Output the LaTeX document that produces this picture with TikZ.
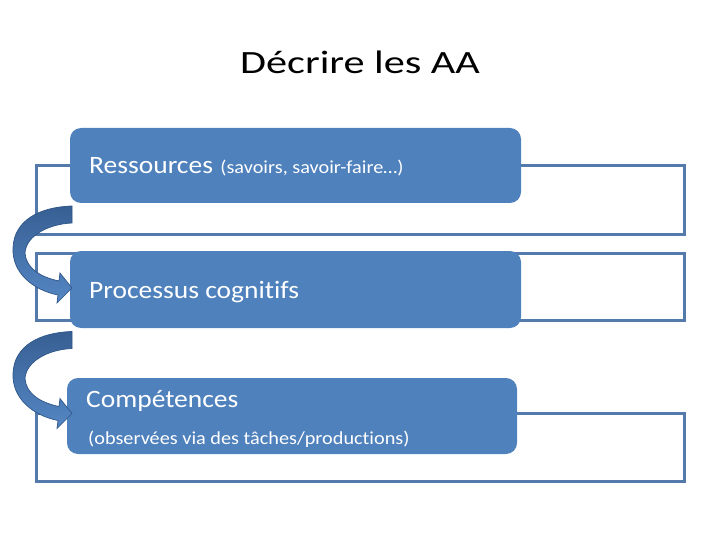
\documentclass[tikz,border=0pt]{standalone}
\usepackage{fontspec}
\setmainfont{Carlito}[Ligatures=NoCommon]
\newfontfamily\titlef{Carlito}[FakeStretch=1.3,Ligatures=NoCommon]
\newfontfamily\bodyf{Carlito}[FakeStretch=1.1,Ligatures=NoCommon]
\definecolor{boxblue}{HTML}{4F81BD}
\definecolor{lineblue}{HTML}{5479AB}
\definecolor{arrdark}{HTML}{375F93}
\definecolor{arrlight}{HTML}{5587C4}
\definecolor{arredge}{HTML}{2E5588}
\tikzset{
  frame/.style={draw=lineblue, line width=3pt, fill=white},
  bluebox/.style={fill=boxblue, rounded corners=11pt},
  bigtxt/.style={text=white, font=\bodyf\fontsize{25}{30}\selectfont, inner sep=0pt},
  smalltxt/.style={text=white, font=\bodyf\fontsize{18.4}{22}\selectfont, inner sep=0pt},
  curvearrow/.pic={
    \path[top color=arrdark, bottom color=arrlight, draw=arredge, line width=0.7pt]
      (72,206) .. controls (40,207) and (14,220) .. (13,248)
      .. controls (12,273) and (33,290) .. (58,295)
      -- (57,303) -- (72,288) -- (60,273) -- (59,281)
      .. controls (40,277) and (26,268) .. (25,253)
      .. controls (26,236) and (48,224) .. (72,223) -- cycle;
  }
}
\begin{document}
\begin{tikzpicture}[x=1pt,y=-1pt]
\useasboundingbox (0,0) rectangle (720,540);
\fill[white] (0,0) rectangle (720,540);
% title
\node[anchor=base, inner sep=0pt, font=\titlef\fontsize{32.5}{40}\selectfont] (title) at (360,73.5) {Décrire les AA};
% outline frames
\draw[frame] (36,166) rectangle (684,234);
\draw[frame] (36,253) rectangle (684,320);
\draw[frame] (36,413) rectangle (684,481);
% blue boxes
\fill[bluebox] (70,128) rectangle (521,203);
\fill[bluebox] (70,251) rectangle (521,328);
\fill[bluebox] (67,378) rectangle (517,454);
% texts
\node[bigtxt, anchor=base west] (t1) at (89,174) {Ressources};
\node[smalltxt, anchor=base west] (t1s) at ([xshift=7pt]t1.base east) {(savoirs, savoir-faire…)};
\node[bigtxt, anchor=base west] (t2) at (89,298) {Processus cognitifs};
\node[bigtxt, anchor=base west] (t3) at (86,407) {Compétences};
\node[smalltxt, anchor=base west] (t3s) at (88,444) {(observées via des tâches/productions)};
% curved arrows
\pic at (0,0) {curvearrow};
\pic at (0,125.5) {curvearrow};
\end{tikzpicture}
\end{document}
